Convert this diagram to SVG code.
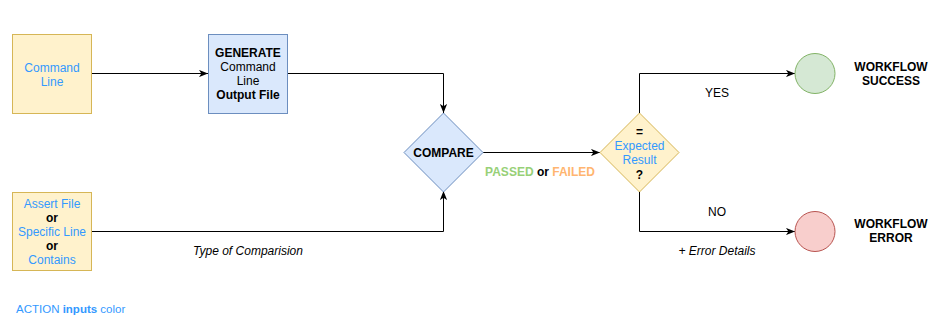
<svg xmlns="http://www.w3.org/2000/svg" width="941" height="327" viewBox="0 0 941 327">
  <defs>
    <marker id="arrow" viewBox="0 0 10 8" refX="10" refY="4" markerWidth="9" markerHeight="7.5" markerUnits="userSpaceOnUse" orient="auto">
      <path d="M0,0 L10,4 L0,8 L2.6,4 Z" fill="#000"/>
    </marker>
    <style>
      text { font-family: "Liberation Sans", Arial, Helvetica, sans-serif; font-size: 12px; fill: #000; }
      .c { text-anchor: middle; }
      .b { font-weight: bold; }
      .i { font-style: italic; }
      .blue { fill: #3399ff; }
      .green { fill: #97d077; }
      .orange { fill: #ffb570; }
      .input { fill: #fff2cc; stroke: #d6b656; stroke-width: 1; }
      .step { fill: #dae8fc; stroke: #6c8ebf; stroke-width: 1; }
      .ok { fill: #d5e8d4; stroke: #82b366; stroke-width: 1; }
      .err { fill: #f8cecc; stroke: #b85450; stroke-width: 1; }
      .edge { fill: none; stroke: #000; stroke-width: 1; marker-end: url(#arrow); }
    </style>
  </defs>
  <rect width="941" height="327" fill="#fff"/>

  <!-- connectors -->
  <g id="edges">
    <path class="edge" d="M91.5,73.5 H208"/>
    <path class="edge" d="M287.5,73.5 H443.5 V113"/>
    <path class="edge" d="M91.5,231.5 H443.5 V191"/>
    <path class="edge" d="M483,152.5 H600"/>
    <path class="edge" d="M639.5,113 V73.5 H795"/>
    <path class="edge" d="M639.5,192 V231.5 H795"/>
  </g>

  <!-- edge labels -->
  <g id="edge-labels">
    <text class="c i" x="248" y="255">Type of Comparision</text>
    <text class="c b" x="540" y="176"><tspan class="green">PASSED</tspan> or <tspan class="orange">FAILED</tspan></text>
    <text class="c" x="717" y="97">YES</text>
    <text class="c" x="717" y="216">NO</text>
    <text class="c i" x="717" y="255">+ Error Details</text>
  </g>

  <g id="command-line">
    <rect class="input" x="12.5" y="34.5" width="79" height="79"/>
    <text class="c blue" x="52" y="72">Command</text>
    <text class="c blue" x="52" y="86">Line</text>
  </g>

  <g id="generate">
    <rect class="step" x="208.5" y="34.5" width="79" height="79"/>
    <text class="c b" x="248" y="57">GENERATE</text>
    <text class="c" x="248" y="71">Command</text>
    <text class="c" x="248" y="85">Line</text>
    <text class="c b" x="248" y="99">Output File</text>
  </g>

  <g id="assert">
    <rect class="input" x="12.5" y="192.5" width="79" height="78"/>
    <text class="c blue" x="52" y="208">Assert File</text>
    <text class="c b" x="52" y="222">or</text>
    <text class="c blue" x="52" y="236">Specific Line</text>
    <text class="c b" x="52" y="250">or</text>
    <text class="c blue" x="52" y="264">Contains</text>
  </g>

  <g id="compare">
    <path class="step" d="M443.5,113 L483,152.5 L443.5,192 L404,152.5 Z"/>
    <text class="c b" x="443.5" y="157">COMPARE</text>
  </g>

  <g id="expected">
    <path class="input" d="M639.5,113 L679,152.5 L639.5,192 L600,152.5 Z"/>
    <text class="c b" x="639.5" y="136">=</text>
    <text class="c blue" x="639.5" y="150">Expected</text>
    <text class="c blue" x="639.5" y="164">Result</text>
    <text class="c b" x="639.5" y="179">?</text>
  </g>

  <g id="success">
    <circle class="ok" cx="815" cy="73.5" r="20"/>
    <text class="c b" x="891" y="71">WORKFLOW</text>
    <text class="c b" x="891" y="85">SUCCESS</text>
  </g>

  <g id="error">
    <circle class="err" cx="815" cy="231.5" r="20"/>
    <text class="c b" x="891" y="228">WORKFLOW</text>
    <text class="c b" x="891" y="242">ERROR</text>
  </g>

  <g id="legend">
    <text class="blue" x="16" y="313" style="font-size:11.5px">ACTION <tspan class="b">inputs</tspan> color</text>
  </g>
</svg>
